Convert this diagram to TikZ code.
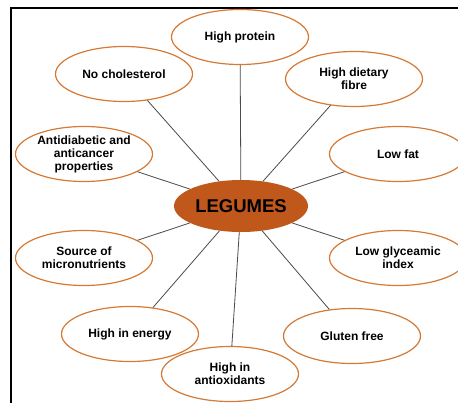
\documentclass[tikz,border=0pt]{standalone}
\usepackage{fontspec}
\setmainfont{Liberation Sans}
\usepackage{tikz}
\usetikzlibrary{shapes.geometric}
\definecolor{rimorange}{HTML}{D57A35}
\definecolor{legumefill}{HTML}{C0571B}
\definecolor{spokegray}{HTML}{4A4A4A}

\begin{document}
\begin{tikzpicture}[
		x=1pt,
		y=-1pt,
		font=\fontsize{12}{13}\selectfont\bfseries,
		benefit/.style={ellipse, draw=rimorange, line width=1.2pt, fill=white,
			minimum width=137pt, minimum height=55pt, inner sep=-2pt, align=center},
		centre/.style={ellipse, fill=legumefill, minimum width=134pt,
			minimum height=52pt, inner sep=0pt, font=\fontsize{18.5}{20}\selectfont\bfseries},
		spoke/.style={draw=spokegray, line width=0.8pt}
		]
		\useasboundingbox (0,0) rectangle (458,402);
		
		% Frame
		\draw[line width=1.5pt] (11,410) -- (11,8) -- (466,8);
		
		% Centre node
		\node[centre] (legumes) at (241,206) {LEGUMES};
		
		% Benefit nodes
		\node[benefit] (protein) at (240,37) {High protein};
		\node[benefit] (cholesterol) at (124,74) {No cholesterol};
		\node[benefit] (fibre) at (354,79) {High dietary\\fibre};
		\node[benefit] (antidiabetic) at (84,154) {Antidiabetic and\\anticancer\\properties};
		\node[benefit] (lowfat) at (398,154) {Low fat};
		\node[benefit] (micro) at (84,258) {Source of\\micronutrients};
		\node[benefit] (lowgi) at (398,258) {Low glyceamic\\index};
		\node[benefit] (energy) at (130,334) {High in energy};
		\node[benefit] (gluten) at (352,336) {Gluten free};
		\node[benefit] (antiox) at (230,374) {High in\\antioxidants};
		
		% Spokes
		\foreach \n in {protein,cholesterol,fibre,antidiabetic,lowfat,micro,lowgi,energy,gluten,antiox}{
			\draw[spoke] (legumes) -- (\n);
		}
		
	\end{tikzpicture}
\end{document}
